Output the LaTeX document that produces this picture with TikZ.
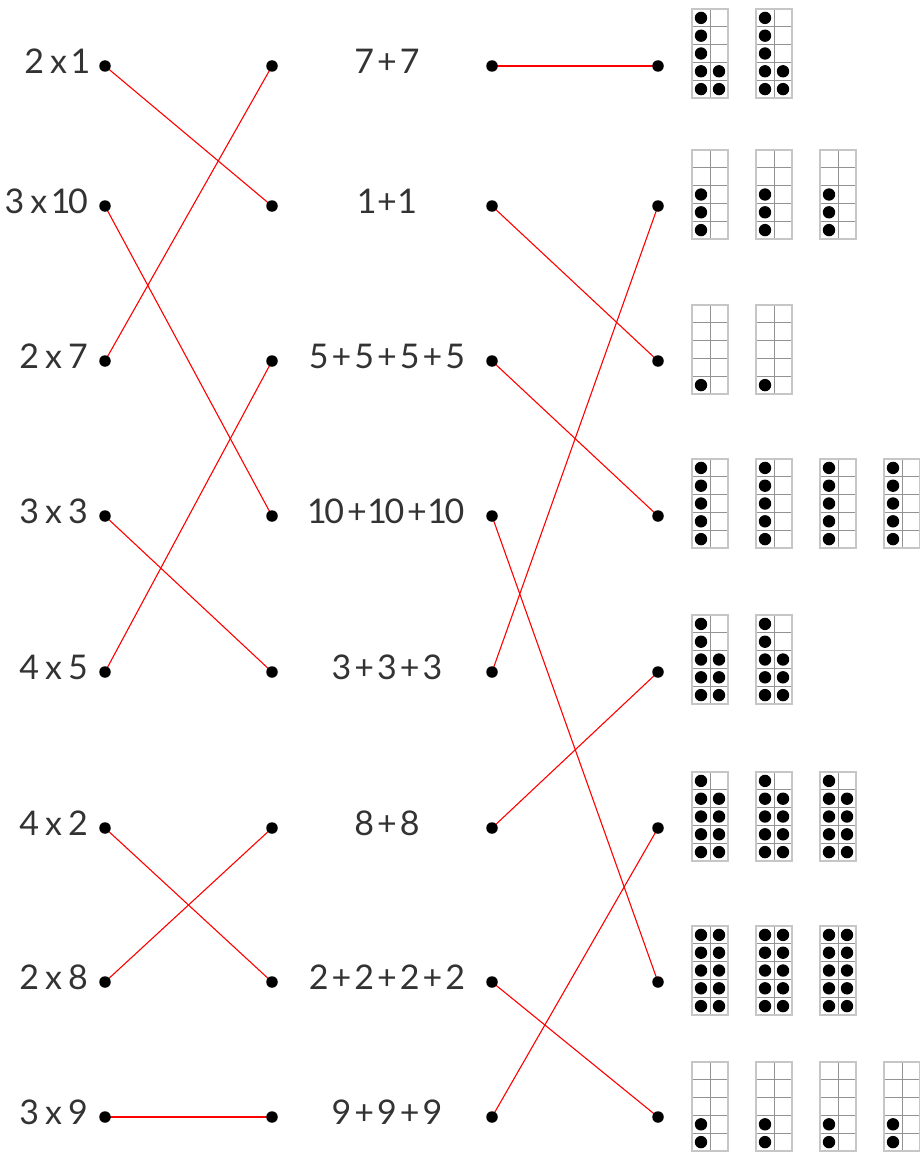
\documentclass[tikz,border=0pt]{standalone}
\usepackage{fontspec}
\setmainfont{Lato}
\usetikzlibrary{backgrounds}
\definecolor{txt}{HTML}{333333}
\definecolor{lnk}{HTML}{FF0000}
\newcommand\tenfr[3]{%
  \foreach \r in {1,...,4} \draw[framegrid] (#1,#2+\r*17.8) -- ++(36,0);
  \draw[framegrid] (#1+18,#2) -- ++(0,89);
  \draw[frameout] (#1,#2) rectangle ++(36,89);
  \foreach \k in {1,...,#3} {
    \pgfmathsetmacro\cx{#1+9+18*floor((\k-1)/5)}
    \pgfmathsetmacro\cy{#2+17.8*(4-mod(\k-1,5)+0.5)}
    \fill (\cx,\cy) circle[radius=6.2pt];
  }%
}
\newcommand\Px{\hspace{6pt}x\hspace{6pt}}
\newcommand\Pp{\hspace{3pt}+\hspace{3pt}}
\newcommand\One{\kern-2.5pt1\kern-2.5pt}
\begin{document}
\begin{tikzpicture}[x=1pt,y=-1pt,
  dot/.style={circle,fill=black,inner sep=0pt,minimum size=11.5pt},
  lab/.style={font=\fontsize{34}{38}\selectfont,text=txt,inner sep=0pt},
  link/.style={draw=lnk,line width=1.1pt},
  frameout/.style={draw=gray!45,line width=2pt},
  framegrid/.style={draw=gray!85,line width=0.8pt}]
\useasboundingbox (0,0) rectangle (919,1153);
\foreach \y [count=\i] in {66,206,361,516,672,828,982,1117} {
  \node[dot] (L\i) at (105,\y) {};
  \node[dot] (A\i) at (272,\y) {};
  \node[dot] (B\i) at (492,\y) {};
  \node[dot] (R\i) at (658,\y) {};
}
% left labels
\foreach \t [count=\i] in {2\Px\One,3\Px\One0,2\Px7,3\Px3,4\Px5,4\Px2,2\Px8,3\Px9}
  \node[lab,anchor=east] (l\i) at ([xshift=-17pt,yshift=5pt]L\i.center) {\t};
% middle labels
\foreach \t [count=\i] in {7\Pp7,\One\Pp\One,5\Pp5\Pp5\Pp5,\One0\Pp\One0\Pp\One0,3\Pp3\Pp3,8\Pp8,2\Pp2\Pp2\Pp2,9\Pp9\Pp9}
  \node[lab] (m\i) at ([yshift=5pt]A\i.center -| 387,0) {\t};
% ten frames
\foreach \tp/\nf/\nd in {9/2/7,150/3/3,305/2/1,459/4/5,615/2/8,772/3/9,926/3/10,1062/4/2}
  \foreach \j in {1,...,\nf} {
    \pgfmathsetmacro\fx{692+64*(\j-1)}
    \tenfr{\fx}{\tp}{\nd}
  }
\begin{pgfonlayer}{background}
\draw[link] (L1.center) -- (A2.center);
\draw[link] (L2.center) -- (A4.center);
\draw[link] (L3.center) -- (A1.center);
\draw[link] (L4.center) -- (A5.center);
\draw[link] (L5.center) -- (A3.center);
\draw[link] (L6.center) -- (A7.center);
\draw[link] (L7.center) -- (A6.center);
\draw[link] (L8.center) -- (A8.center);
\draw[link] (B1.center) -- (R1.center);
\draw[link] (B2.center) -- (R3.center);
\draw[link] (B3.center) -- (R4.center);
\draw[link] (B4.center) -- (R7.center);
\draw[link] (B5.center) -- (R2.center);
\draw[link] (B6.center) -- (R5.center);
\draw[link] (B7.center) -- (R8.center);
\draw[link] (B8.center) -- (R6.center);
\end{pgfonlayer}
\end{tikzpicture}
\end{document}
